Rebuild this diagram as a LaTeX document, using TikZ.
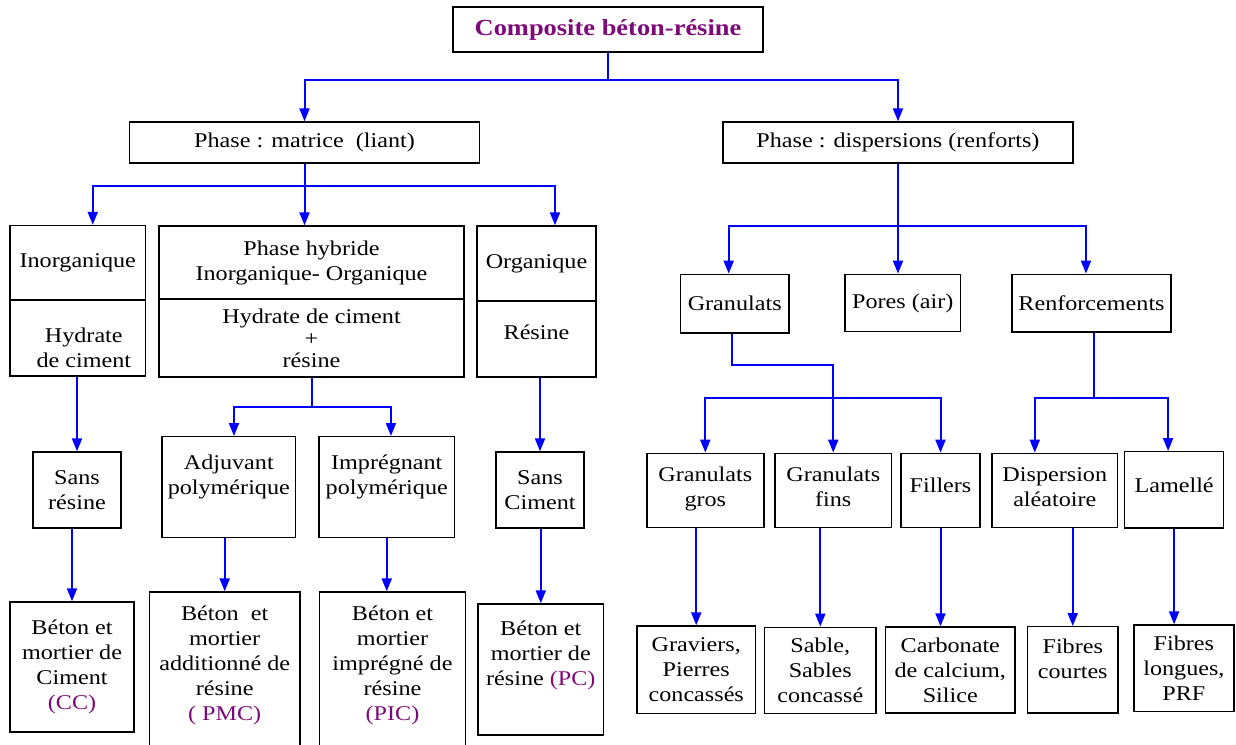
\documentclass[tikz,border=0pt]{standalone}
\usepackage{fontspec}
\setmainfont{Liberation Serif}[FakeStretch=1.15]
\usetikzlibrary{arrows.meta}
\definecolor{violetTitre}{RGB}{125,10,120}
\definecolor{bleuLien}{RGB}{0,0,255}
\newcommand{\sigle}[1]{\textcolor{violetTitre}{#1}}

\begin{document}
\begin{tikzpicture}[x=.5pt,y=-.5pt,>={Triangle[length=6.5pt,width=5pt]},
  box/.style={draw,line width=.7pt,rectangle,align=center,inner sep=1pt,
    font=\fontsize{10.5}{12.5}\selectfont},
  link/.style={draw=bleuLien,line width=1pt}]
\useasboundingbox (0,0) rectangle (1236,744);

% racine
\node[box,minimum width=155pt,minimum height=22.5pt,text=violetTitre,
  font=\fontsize{11.5}{13}\selectfont\bfseries] (title) at (608,29.5) {Composite béton-résine};
\node[box,minimum width=175pt,minimum height=20.5pt] (matrice) at (304.5,142.5) {Phase : matrice~ (liant)};
\node[box,minimum width=175pt,minimum height=20.5pt] (disp) at (898,142.5) {Phase : dispersions (renforts)};

% matrice
\node[box,minimum width=67.75pt,minimum height=37.25pt] (inorgTop) at (77.75,262.75) {Inorganique};
\node[box,minimum width=67.75pt,minimum height=38pt] (inorgBot) at (77.75,338) {\rule{0pt}{17.5pt}~~Hydrate\\~~de ciment};
\node[box,minimum width=152.5pt,minimum height=36.5pt] (hybTop) at (311.5,262.5) {Phase hybride\\Inorganique- Organique};
\node[box,minimum width=152.5pt,minimum height=39pt] (hybBot) at (311.5,338) {Hydrate de ciment\\[-1.5pt]+\\[-1.5pt]résine};
\node[box,minimum width=59.5pt,minimum height=37.5pt] (orgTop) at (536.5,263.5) {Organique};
\node[box,minimum width=59.5pt,minimum height=38pt] (orgBot) at (536.5,339) {Résine\\[-5.5pt]};

\node[box,minimum width=44pt,minimum height=38pt] (sansR) at (77,490) {Sans\\résine};
\node[box,minimum width=66.8pt,minimum height=50.5pt] (adjuv) at (228.8,487.2) {Adjuvant\\polymérique\\[0pt]};
\node[box,minimum width=67.75pt,minimum height=50.5pt] (impreg) at (386.75,487.2) {Imprégnant\\polymérique\\[0pt]};
\node[box,minimum width=44pt,minimum height=38pt] (sansC) at (540,490) {Sans\\Ciment};

\node[box,minimum width=62pt,minimum height=65pt] (cc) at (72,667) {Béton et\\mortier de\\Ciment\\\sigle{(CC)}};
\node[box,minimum width=75.3pt,minimum height=77pt] (pmc) at (224.7,669) {Béton~ et\\mortier\\additionné de\\résine\\\sigle{( PMC)}\\[-7pt]};
\node[box,minimum width=73.1pt,minimum height=77pt] (pic) at (392.5,669) {Béton et\\mortier\\imprégné de\\résine\\\sigle{(PIC)}\\[-7pt]};
\node[box,minimum width=62.8pt,minimum height=65.5pt] (pc) at (540.8,669.5) {Béton et\\mortier de\\résine \sigle{(PC)}\\[4pt]};

% dispersions
\node[box,minimum width=54.3pt,minimum height=29.35pt] (granul) at (734.7,303.65) {Granulats};
\node[box,minimum width=57.95pt,minimum height=28.7pt] (pores) at (902.75,303) {Pores (air)};
\node[box,minimum width=79.5pt,minimum height=28.85pt] (renf) at (1091.5,303.15) {Renforcements};

\node[box,minimum width=58.5pt,minimum height=37.2pt] (gros) at (705.3,490.5) {Granulats\\gros\\[-9pt]};
\node[box,minimum width=58.25pt,minimum height=37.2pt] (fins) at (833.25,490.5) {Granulats\\fins\\[-9pt]};
\node[box,minimum width=39.5pt,minimum height=37.2pt] (fillers) at (940.5,490.5) {Fillers\\[-7.5pt]};
\node[box,minimum width=62.8pt,minimum height=37.2pt] (dispA) at (1054.8,490.5) {Dispersion\\aléatoire\\[-9pt]};
\node[box,minimum width=49.4pt,minimum height=38.15pt] (lamelle) at (1174.1,489.85) {Lamellé\\[-7.5pt]};

\node[box,minimum width=59.25pt,minimum height=43.65pt] (graviers) at (696.25,669.65) {Graviers,\\Pierres\\concassés};
\node[box,minimum width=55.7pt,minimum height=43pt] (sable) at (820.3,670.3) {Sable,\\Sables\\concassé};
\node[box,minimum width=64.7pt,minimum height=43pt] (carbo) at (950.3,670) {Carbonate\\de calcium,\\Silice};
\node[box,minimum width=45.25pt,minimum height=43.15pt] (courtes) at (1072.75,669.85) {Fibres\\courtes\\[-1.5pt]};
\node[box,minimum width=49.9pt,minimum height=43.35pt] (longues) at (1183.9,668.35) {Fibres\\longues,\\PRF};

% liens
\draw[link,->] (title.south) -- ++(0,27.5) -| (matrice.north);
\draw[link,->] (title.south) -- ++(0,27.5) -| (disp.north);

\draw[link,->] (matrice.south) -- ++(0,22.5) -| ([xshift=7.5pt]inorgTop.north);
\draw[link,->] (matrice.south) -- (matrice.south |- hybTop.north);
\draw[link,->] (matrice.south) -- ++(0,22.5) -| ([xshift=9.25pt]orgTop.north);

\draw[link,->] (inorgBot.south -| sansR.north) -- (sansR.north);
\draw[link,->] (hybBot.south) -- ++(0,29) -| ([xshift=2.6pt]adjuv.north);
\draw[link,->] (hybBot.south) -- ++(0,29) -| ([xshift=2.1pt]impreg.north);
\draw[link,->] (orgBot.south -| sansC.north) -- (sansC.north);

\draw[link,->] (sansR.south -| cc.north) -- (cc.north);
\draw[link,->] (adjuv.south -| pmc.north) -- (pmc.north);
\draw[link,->] (impreg.south) -- (impreg.south |- pic.north);
\draw[link,->] (sansC.south -| pc.north) -- (pc.north);

\draw[link,->] (disp.south) -- ++(0,62.5) -| ([xshift=-3pt]granul.north);
\draw[link,->] (disp.south) -- (disp.south |- pores.north);
\draw[link,->] (disp.south) -- ++(0,62.5) -| ([xshift=-2.75pt]renf.north);

\draw[link,->] ([xshift=-1.6pt]granul.south) -- ++(0,31.5) -| (fins.north);
\draw[link,<->] (gros.north) -- ++(0,-55) -| (fillers.north);
\draw[link,->] ([xshift=1.25pt]renf.south) -- ++(0,65.5) -| ([xshift=-10pt]dispA.north);
\draw[link,->] ([xshift=1.25pt]renf.south) -- ++(0,65.5) -| ([xshift=-3pt]lamelle.north);

\draw[link,->] (gros.south -| graviers.north) -- (graviers.north);
\draw[link,->] (fins.south -| sable.north) -- (sable.north);
\draw[link,->] (fillers.south) -- (fillers.south |- carbo.north);
\draw[link,->] (dispA.south -| courtes.north) -- (courtes.north);
\draw[link,->] (lamelle.south) -- (lamelle.south |- longues.north);
\end{tikzpicture}
\end{document}
